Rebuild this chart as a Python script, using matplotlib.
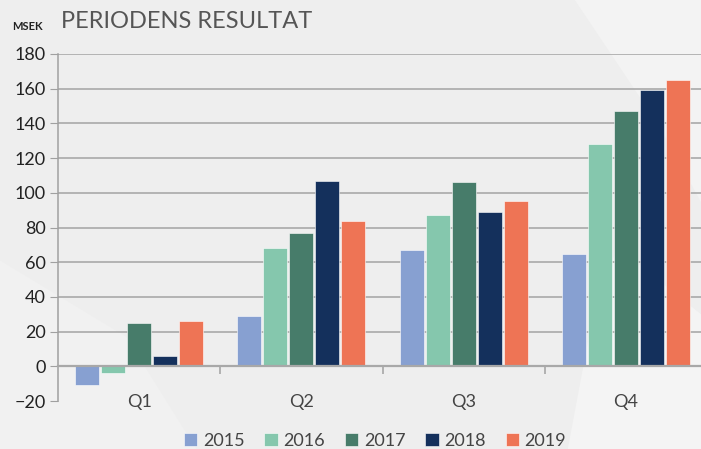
"""
Periodens resultat per kvartal, MSEK, 2015-2019.
"""

import matplotlib

matplotlib.use("Agg")
import matplotlib.pyplot as plt
from matplotlib.patches import Polygon
import numpy as np

quarters = ["Q1", "Q2", "Q3", "Q4"]
years = ["2015", "2016", "2017", "2018", "2019"]

res_2015 = [-11, 29, 67, 65]
res_2016 = [-4, 68, 87, 128]
res_2017 = [25, 77, 106, 147]
res_2018 = [6, 107, 89, 159]
res_2019 = [26, 84, 95, 165]

year_colors = ["#87a0d1", "#85c7ad", "#477c6a", "#14305c", "#ee7455"]

plt.rcParams["font.family"] = ["Lato", "DejaVu Sans"]

fig = plt.figure(figsize=(7.01, 4.49), dpi=100, facecolor="#eeeeee")

# faint lighter swooshes in the background
for pts, col in [
    ([(0.82, 1.0), (1.0, 1.0), (1.0, 0.55), (0.94, 0.72)], "#f3f3f3"),
    ([(0.81, 0.0), (1.0, 0.0), (1.0, 0.30), (0.88, 0.45), (0.84, 0.25)], "#f4f4f4"),
    ([(0.0, 0.0), (0.28, 0.0), (0.18, 0.25), (0.0, 0.42)], "#f1f1f1"),
]:
    fig.patches.append(Polygon(pts, closed=True, transform=fig.transFigure,
                               facecolor=col, edgecolor="none", zorder=-10))

ax = fig.add_axes([58 / 701, 48 / 449, (707 - 58) / 701, (401 - 54) / 449])
ax.set_facecolor("none")

series = [res_2015, res_2016, res_2017, res_2018, res_2019]
x = np.arange(len(quarters))
step = 0.16
width = 0.148
for i, (vals, col, yr) in enumerate(zip(series, year_colors, years)):
    ax.bar(x + (i - 2) * step, vals, width, color=col, label=yr, zorder=3,
           edgecolor="#ffffff", linewidth=0.4)

ax.set_xlim(-0.5, 3.5)
ax.set_ylim(-20, 180)
ax.set_yticks(np.arange(-20, 181, 20))
ax.tick_params(axis="y", length=6, color="#a0a0a0", labelsize=13,
               labelcolor="#222222", pad=3)
ax.grid(axis="y", color="#a3a3a3", linewidth=1.1, zorder=0)
ax.yaxis.get_gridlines()[0].set_visible(False)

# category boundaries as major ticks, quarter names as minor ticks
ax.set_xticks([0.5, 1.5, 2.5, 3.5])
ax.set_xticklabels([])
ax.set_xticks(x, minor=True)
ax.set_xticklabels(quarters, minor=True)
ax.tick_params(axis="x", which="major", direction="out", length=6,
               color="#a0a0a0", width=1.1)
ax.tick_params(axis="x", which="minor", length=0, pad=20, labelsize=13,
               labelcolor="#444444")

ax.spines["bottom"].set_position(("data", 0))
ax.spines["bottom"].set_color("#a8a8a8")
ax.spines["bottom"].set_linewidth(1.6)
ax.spines["bottom"].set_zorder(4)
ax.spines["left"].set_color("#a0a0a0")
ax.spines["left"].set_linewidth(1.1)
ax.spines["top"].set_visible(False)
ax.spines["right"].set_visible(False)

fig.text(12 / 701, 1 - 27 / 449, "MSEK", fontsize=8, fontweight="bold",
         color="#222222", va="center", ha="left")
fig.text(61 / 701, 1 - 22 / 449, "PERIODENS RESULTAT", fontsize=17,
         color="#555555", va="center", ha="left")

fig.legend(loc="center", bbox_to_anchor=(0.535, 1 - 441 / 449), ncol=5,
           frameon=False, fontsize=13, handlelength=0.75, handleheight=0.75,
           handletextpad=0.3, columnspacing=1.1, labelcolor="#444444")

fig.savefig("out.png", dpi=100, facecolor=fig.get_facecolor())
